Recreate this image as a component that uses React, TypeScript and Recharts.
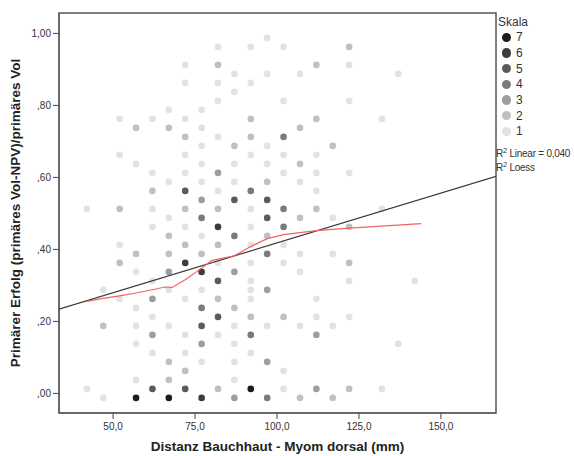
import { ScatterChart, Scatter, XAxis, YAxis, ReferenceArea } from 'recharts'

// binned scatter: one list of [x, y] per "Skala" level
const skala7 = [[57, -0.0125], [67, -0.0125], [92, 0.0125]]
const skala6 = [[77, -0.0125], [72, 0.3625], [77, 0.3375], [82, 0.4625]]
const skala5 = [
  [72, 0.5625], [87, 0.5375], [97, 0.5375], [97, 0.4875], [82, 0.3125],
  [82, 0.2125], [77, 0.1875], [62, 0.0125], [72, 0.0125],
]
const skala4 = [
  [102, 0.7125], [92, 0.5625], [102, 0.5125], [77, 0.4875], [102, 0.4625],
  [87, 0.4375], [97, 0.3875], [77, 0.2375], [92, 0.1625], [97, -0.0125],
]
const skala3 = [
  [82, 0.6125], [77, 0.5375], [67, 0.3375], [87, 0.3375], [97, 0.2875], [62, 0.2625],
  [62, 0.1625], [112, 0.1625], [77, 0.1375], [97, 0.0875], [112, 0.0125], [87, -0.0125],
]
const skala2 = [
  [122, 0.9625], [82, 0.9125], [112, 0.9125], [92, 0.7625], [112, 0.7625], [57, 0.7375],
  [67, 0.7375], [107, 0.7375], [72, 0.7125], [92, 0.7125], [87, 0.6875], [117, 0.6875],
  [107, 0.6375], [97, 0.5875], [62, 0.5625], [52, 0.5125], [72, 0.5125], [82, 0.5125],
  [112, 0.5125], [107, 0.4875], [122, 0.4625], [67, 0.4375], [97, 0.4375], [72, 0.4125],
  [82, 0.4125], [57, 0.3875], [67, 0.3875], [77, 0.3875], [52, 0.3625], [122, 0.3625],
  [82, 0.2625], [87, 0.2375], [92, 0.2125], [102, 0.2125], [47, 0.1875], [67, 0.0875],
  [72, 0.0625], [67, 0.0375], [82, 0.0125], [122, 0.0125], [107, -0.0125], [117, -0.0125],
]
const skala1 = [
  [97, 0.9875], [82, 0.9625], [92, 0.9625], [102, 0.9625], [72, 0.9125], [122, 0.9125],
  [87, 0.8875], [97, 0.8875], [107, 0.8875], [137, 0.8875], [72, 0.8625], [82, 0.8625],
  [92, 0.8625], [87, 0.8375], [82, 0.8125], [102, 0.8125], [122, 0.8125], [67, 0.7875],
  [77, 0.7875], [52, 0.7625], [62, 0.7625], [72, 0.7625], [132, 0.7625], [77, 0.7375],
  [82, 0.7125], [77, 0.6875], [97, 0.6875], [52, 0.6625], [72, 0.6625], [92, 0.6625],
  [102, 0.6625], [112, 0.6625], [57, 0.6375], [77, 0.6375], [87, 0.6375], [97, 0.6375],
  [62, 0.6125], [72, 0.6125], [102, 0.6125], [112, 0.6125], [122, 0.6125], [67, 0.5875],
  [77, 0.5875], [87, 0.5875], [107, 0.5875], [82, 0.5625], [112, 0.5625], [42, 0.5125],
  [62, 0.5125], [92, 0.5125], [132, 0.5125], [67, 0.4875], [117, 0.4875], [62, 0.4625],
  [72, 0.4625], [92, 0.4625], [77, 0.4375], [52, 0.4125], [92, 0.4125], [102, 0.4125],
  [107, 0.3875], [117, 0.3875], [82, 0.3625], [92, 0.3625], [102, 0.3625], [57, 0.3375],
  [107, 0.3375], [62, 0.3125], [92, 0.3125], [122, 0.3125], [142, 0.3125], [47, 0.2875],
  [67, 0.2875], [77, 0.2875], [92, 0.2875], [52, 0.2625], [72, 0.2625], [92, 0.2625],
  [112, 0.2625], [57, 0.2375], [62, 0.2125], [112, 0.2125], [122, 0.2125], [57, 0.1875],
  [67, 0.1875], [87, 0.1875], [97, 0.1875], [107, 0.1875], [117, 0.1875], [72, 0.1625],
  [82, 0.1625], [57, 0.1375], [87, 0.1375], [137, 0.1375], [62, 0.1125], [72, 0.1125],
  [92, 0.1125], [77, 0.0875], [87, 0.0875], [102, 0.0625], [57, 0.0375], [87, 0.0375],
  [42, 0.0125], [102, 0.0125], [132, 0.0125], [47, -0.0125],
]

const skalaLevels = [7, 6, 5, 4, 3, 2, 1]
const skalaPoints = [skala7, skala6, skala5, skala4, skala3, skala2, skala1]
const skalaColors = ['#1c1c1c', '#3c3c3c', '#5b5b5b', '#7b7b7b', '#9e9e9e', '#c0c0c0', '#e2e2e2']

// fit lines
const fitX = [33.5, 166.8]
const fitY = [0.234, 0.603]
const loessX = [42, 47, 52, 57, 62, 65.8, 68, 72, 77, 80, 82, 87, 92, 97, 102, 112, 122, 144]
const loessY = [0.2556, 0.264, 0.271, 0.279, 0.288, 0.2956, 0.2945, 0.316, 0.348, 0.369, 0.373, 0.3825, 0.408, 0.43, 0.441, 0.452, 0.459, 0.4714]

const xTicks = [50, 75, 100, 125, 150]
const yTicks = [0, 0.2, 0.4, 0.6, 0.8, 1.0]
const X_DOMAIN = [33.5, 166.8]
const Y_DOMAIN = [-0.0544, 1.0567]

const FONT = 'Arial, "Liberation Sans", sans-serif'

const dots = [...skalaPoints].reverse().flatMap((pts, i) => {
  const idx = skalaPoints.length - 1 - i
  return pts.map(([x, y]) => ({ x, y, color: skalaColors[idx] }))
})
const fitLine = fitX.map((x, i) => ({ x, y: fitY[i] }))
const loessLine = loessX.map((x, i) => ({ x, y: loessY[i] }))

const fmtY = (v: number) => (v >= 1 ? '1,00' : ',' + v.toFixed(2).slice(2))
const fmtX = (v: number) => v.toFixed(1).replace('.', ',')

export default function App() {
  return (
    <div style={{ position: 'absolute', left: 0, top: 0, width: 574, height: 456, background: '#fff', overflow: 'hidden', fontFamily: FONT }}>
      <ScatterChart width={574} height={456} margin={{ top: 13, right: 78, bottom: 0, left: 0 }}>
        <XAxis
          type="number" dataKey="x" domain={X_DOMAIN} ticks={xTicks} interval={0}
          allowDataOverflow tickFormatter={fmtX} height={43} tickSize={6} tickMargin={4}
          tick={{ fontSize: 10, fill: '#333', fontFamily: FONT }}
          tickLine={{ stroke: '#444' }} axisLine={{ stroke: '#555' }}
        />
        <YAxis
          type="number" dataKey="y" domain={Y_DOMAIN} ticks={yTicks} interval={0}
          allowDataOverflow tickFormatter={fmtY} width={59} tickSize={6} tickMargin={2}
          tick={{ fontSize: 10, fill: '#333', fontFamily: FONT }}
          tickLine={{ stroke: '#444' }} axisLine={{ stroke: '#555' }}
        />
        <Scatter
          data={dots}
          isAnimationActive={false}
          shape={(p: any) => <circle cx={p.cx} cy={p.cy} r={3.3} fill={p.payload.color} />}
        />
        <Scatter
          data={fitLine}
          isAnimationActive={false}
          line={{ stroke: '#3a3a3a', strokeWidth: 1.2 }}
          shape={() => <g />}
        />
        <Scatter
          data={loessLine}
          isAnimationActive={false}
          line={{ stroke: '#ee6464', strokeWidth: 1.2 }}
          shape={() => <g />}
        />
        <ReferenceArea x1={X_DOMAIN[0]} x2={X_DOMAIN[1]} y1={Y_DOMAIN[0]} y2={Y_DOMAIN[1]} fill="none" stroke="#555" strokeWidth={1.5} />
      </ScatterChart>

      {/* axis titles */}
      <div style={{ position: 'absolute', left: 0, top: 439, width: 555, textAlign: 'center', fontSize: 13.5, lineHeight: '16px', fontWeight: 700, color: '#222', whiteSpace: 'nowrap' }}>
        Distanz Bauchhaut - Myom dorsal (mm)
      </div>
      <div style={{ position: 'absolute', left: 16.3 - 210, top: 213.3 - 8, width: 420, height: 16, textAlign: 'center', fontSize: 13.5, lineHeight: '16px', fontWeight: 700, color: '#222', whiteSpace: 'nowrap', transform: 'rotate(-90deg)' }}>
        Primärer Erfolg (primäres Vol-NPV)/primäres Vol
      </div>

      {/* legend */}
      <div style={{ position: 'absolute', left: 498, top: 15.3, fontSize: 12, lineHeight: '14px', color: '#333' }}>Skala</div>
      {skalaLevels.map((lv, i) => (
        <div key={lv} style={{ position: 'absolute', left: 502, top: 37.3 + i * 15.67 - 7, height: 14, display: 'flex', alignItems: 'center' }}>
          <div style={{ width: 9.4, height: 9.4, borderRadius: '50%', background: skalaColors[i] }} />
          <span style={{ marginLeft: 4.5, fontSize: 12, lineHeight: '14px', color: '#333' }}>{lv}</span>
        </div>
      ))}
      <div style={{ position: 'absolute', left: 496, top: 147, fontSize: 10, letterSpacing: -0.25, lineHeight: '13.4px', color: '#333', whiteSpace: 'nowrap' }}>
        <div>R<span style={{ fontSize: 7.5, position: 'relative', top: -4 }}>2</span> Linear = 0,040</div>
        <div>R<span style={{ fontSize: 7.5, position: 'relative', top: -4 }}>2</span> Loess</div>
      </div>
    </div>
  )
}
